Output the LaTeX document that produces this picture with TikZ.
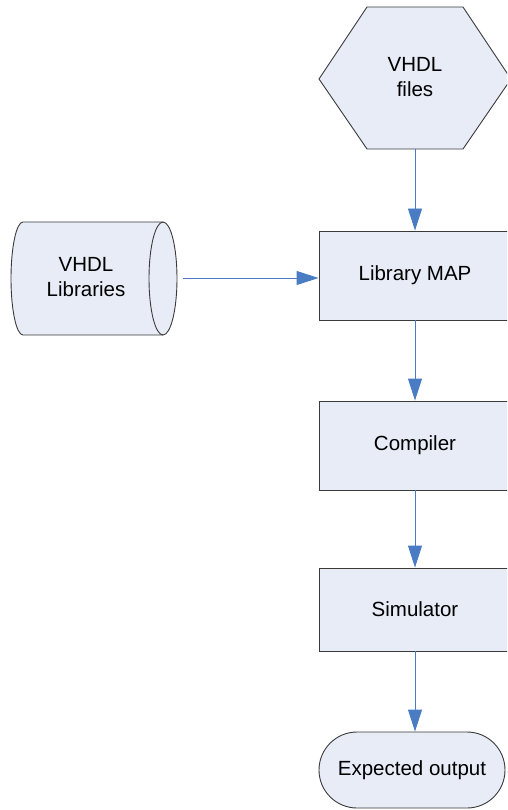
\documentclass[tikz,border=0pt]{standalone}
\usepackage{fontspec}
\setmainfont{Liberation Sans}
\usetikzlibrary{arrows.meta,shapes.misc}
\definecolor{shapefill}{HTML}{E7ECF7}
\definecolor{shapeline}{HTML}{3A3A3A}
\definecolor{flowblue}{HTML}{4A7CC4}
\begin{document}
\begin{tikzpicture}[x=1pt,y=-1pt,
  every node/.style={font=\fontsize{20.5}{25}\selectfont, align=center, text=black},
  outline/.style={draw=shapeline, line width=0.9pt, fill=shapefill},
  stepbox/.style={outline, rectangle, minimum width=192pt, minimum height=89pt, inner sep=0pt},
  terminal/.style={outline, rounded rectangle, minimum width=186pt, minimum height=76pt, inner sep=0pt},
  flow/.style={draw=flowblue, line width=0.9pt, -{Triangle[length=22pt,width=14pt]}}
]
\path[use as bounding box, clip] (0,0) rectangle (507,810);

% hexagon holding the source files
\path[outline] (367,7) -- (463,7) -- (511,79) -- (463,149) -- (367,149) -- (319,79) -- cycle;
\node (src) at (415,77) {VHDL\\files};
\coordinate (srcout) at (415,149);

% library store drawn as a horizontal cylinder
\path[outline] (23,222) -- (163,222)
  arc[start angle=-90, end angle=90, x radius=14, y radius=56.5]
  -- (23,335)
  arc[start angle=90, end angle=270, x radius=12, y radius=56.5] -- cycle;
\draw[draw=shapeline, line width=0.9pt] (163,222)
  arc[start angle=-90, end angle=-270, x radius=14, y radius=56.5];
\node (lib) at (86,277) {VHDL\\Libraries};
\coordinate (libout) at (183,278);

% processing steps
\node[stepbox] (map) at (415,275.5) {Library MAP};
\node[stepbox] (comp) at (415,445.5) {Compiler};
\node[stepbox, minimum height=83pt] (sim) at (415,609.5) {Simulator};
\node[terminal] (out) at (412,770) {Expected output};

% connectors
\draw[flow] (srcout) -- (map.north);
\draw[flow] (libout) -- (libout -| map.west);
\draw[flow] (map.south) -- (comp.north);
\draw[flow] (comp.south) -- (sim.north);
\draw[flow] (sim.south) -- (sim.south |- out.north);
\end{tikzpicture}
\end{document}
